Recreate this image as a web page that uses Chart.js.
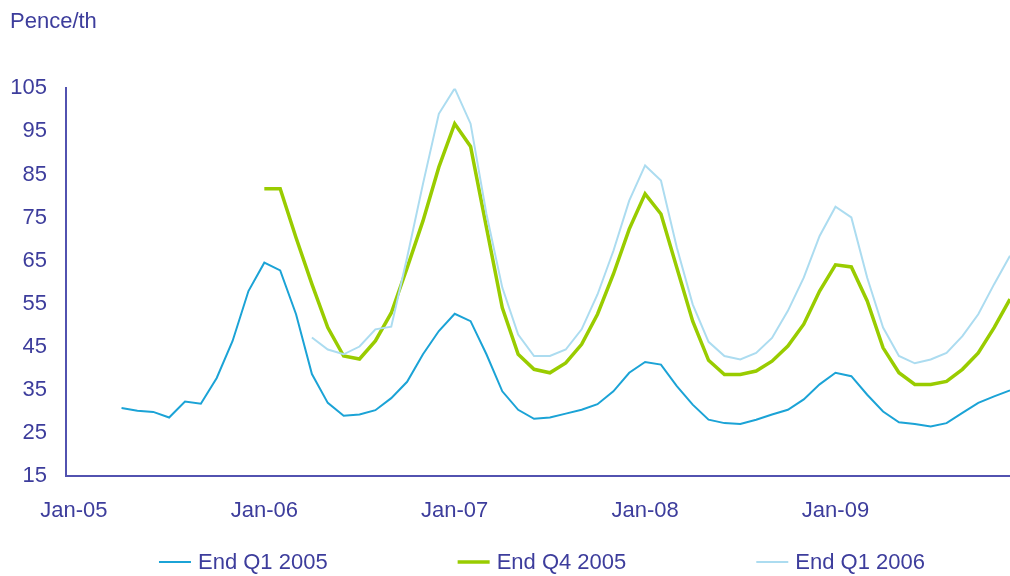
<!DOCTYPE html>
<html lang="en">
<head>
    <meta charset="UTF-8">
    <title>Pence/th forward curves</title>
    <script src="https://cdn.jsdelivr.net/npm/chart.js"></script>
    <style>
        html, body { margin: 0; padding: 0; background: #fff; overflow: hidden; }
        #wrap { width: 1032px; height: 576px; }
    </style>
</head>
<body>
    <div id="wrap"><canvas id="chart" width="1032" height="576"></canvas></div>

    <script>
        // Monthly categories Jan-05 .. Dec-09
        const years = ['05', '06', '07', '08', '09'];
        const monthNames = ['Jan', 'Feb', 'Mar', 'Apr', 'May', 'Jun', 'Jul', 'Aug', 'Sep', 'Oct', 'Nov', 'Dec'];
        const months = [];
        years.forEach(y => monthNames.forEach(m => months.push(m + '-' + y)));

        const yTicks = { min: 15, max: 105, step: 10 };

        // End Q1 2005 (starts Apr-05)
        const endQ1_2005 = [
            null, null, null, 30.7, 30.1, 29.8, 28.5, 32.2, 31.7, 37.7, 46.3, 57.9,
            64.5, 62.7, 52.5, 38.6, 31.9, 28.9, 29.2, 30.2, 33.0, 36.8, 43.2, 48.6,
            52.6, 50.9, 43.2, 34.6, 30.3, 28.2, 28.5, 29.4, 30.3, 31.6, 34.6, 38.9,
            41.4, 40.8, 35.8, 31.5, 28.0, 27.2, 27.0, 28.0, 29.2, 30.3, 32.7, 36.2,
            38.9, 38.1, 33.8, 29.9, 27.4, 27.0, 26.4, 27.2, 29.6, 31.9, 33.4, 34.8
        ];

        // End Q4 2005 (starts Jan-06)
        const endQ4_2005 = [
            null, null, null, null, null, null, null, null, null, null, null, null,
            81.7, 81.7, 70.3, 59.5, 49.4, 42.8, 42.1, 46.3, 52.8, 63.3, 74.2, 86.7,
            96.8, 91.5, 72.7, 54.0, 43.2, 39.7, 38.9, 41.2, 45.5, 52.5, 61.8, 72.3,
            80.5, 75.8, 63.3, 50.9, 41.8, 38.5, 38.5, 39.3, 41.6, 45.1, 50.2, 57.9,
            64.0, 63.5, 55.6, 44.7, 38.9, 36.2, 36.2, 36.9, 39.7, 43.5, 49.4, 56.0
        ];

        // End Q1 2006 (starts Apr-06)
        const endQ1_2006 = [
            null, null, null, null, null, null, null, null, null, null, null, null,
            null, null, null, 47.1, 44.3, 43.2, 45.0, 49.0, 49.6, 65.7, 82.8, 99.1,
            105.0, 96.8, 75.8, 58.7, 47.8, 42.8, 42.8, 44.3, 49.0, 57.1, 67.2, 78.9,
            87.1, 83.6, 68.0, 54.8, 46.1, 42.8, 42.0, 43.5, 47.0, 53.3, 61.0, 70.7,
            77.5, 75.0, 61.0, 49.4, 42.8, 41.1, 42.0, 43.5, 47.4, 52.5, 59.5, 66.1
        ];

        const seriesNames = ['End Q1 2005', 'End Q4 2005', 'End Q1 2006'];

        const textColor = '#3d3d9c';
        const axisColor = '#5252b0';
        const font = { family: '"Liberation Sans", Arial, sans-serif', size: 22 };

        // legend drawn under the axis, items spread across the plot width
        const bottomLegend = {
            id: 'bottomLegend',
            afterDraw(chart) {
                const ctx = chart.ctx;
                const area = chart.chartArea;
                const lineLen = 32, gapText = 7, gapItem = 130, y = 562;
                ctx.save();
                ctx.font = font.size + 'px ' + font.family;
                const items = chart.data.datasets.map(ds => ({
                    ds: ds,
                    w: lineLen + gapText + ctx.measureText(ds.label).width
                }));
                const total = items.reduce((s, it) => s + it.w, 0) + gapItem * (items.length - 1);
                let x = (area.left + area.right) / 2 - total / 2;
                items.forEach(it => {
                    ctx.strokeStyle = it.ds.borderColor;
                    ctx.lineWidth = it.ds.borderWidth;
                    ctx.beginPath();
                    ctx.moveTo(x, y);
                    ctx.lineTo(x + lineLen, y);
                    ctx.stroke();
                    ctx.fillStyle = textColor;
                    ctx.textBaseline = 'middle';
                    ctx.textAlign = 'left';
                    ctx.fillText(it.ds.label, x + lineLen + gapText, y + 1);
                    x += it.w + gapItem;
                });
                ctx.restore();
            }
        };

        const ctx = document.getElementById('chart').getContext('2d');
        new Chart(ctx, {
            type: 'line',
            data: {
                labels: months,
                datasets: [
                    { label: seriesNames[0], data: endQ1_2005, borderColor: '#1ba3d6', borderWidth: 2, order: 2 },
                    { label: seriesNames[1], data: endQ4_2005, borderColor: '#99cc00', borderWidth: 3.5, order: 1 },
                    { label: seriesNames[2], data: endQ1_2006, borderColor: '#acdcf0', borderWidth: 2, order: 0 }
                ]
            },
            options: {
                responsive: false,
                animation: false,
                devicePixelRatio: 1,
                layout: { padding: { left: 10, right: 0, top: 0, bottom: 30 } },
                elements: {
                    point: { radius: 0 },
                    line: { tension: 0, fill: false }
                },
                plugins: {
                    legend: { display: false },
                    tooltip: { enabled: false },
                    title: {
                        display: true,
                        text: 'Pence/th',
                        align: 'start',
                        color: textColor,
                        font: { family: font.family, size: font.size, weight: 'normal' },
                        padding: { top: 9, bottom: 53 }
                    }
                },
                scales: {
                    x: {
                        offset: true,
                        grid: { display: false, drawTicks: false },
                        border: { display: true, color: axisColor, width: 2 },
                        ticks: {
                            autoSkip: false,
                            maxRotation: 0,
                            padding: 22,
                            color: textColor,
                            font: font,
                            callback: function (value, index) {
                                return index % 12 === 0 ? months[index] : '';
                            }
                        }
                    },
                    y: {
                        min: yTicks.min,
                        max: yTicks.max,
                        grid: { display: false, drawTicks: false },
                        border: { display: true, color: axisColor, width: 2 },
                        ticks: {
                            stepSize: yTicks.step,
                            padding: 19,
                            color: textColor,
                            font: font
                        },
                        afterFit: function (scale) { scale.width = 56; }
                    }
                }
            },
            plugins: [bottomLegend]
        });
    </script>
</body>
</html>
